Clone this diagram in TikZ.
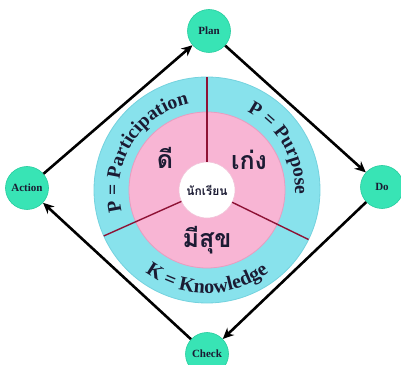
\documentclass[tikz,border=0pt]{standalone}
\usepackage{fontspec}
\setmainfont{Liberation Serif}
\newfontfamily\thaifont[Script=Thai]{Loma}
\usetikzlibrary{decorations.text,arrows.meta,calc}
\definecolor{ringcyan}{HTML}{88E2EC}
\definecolor{ringedge}{HTML}{74D2DE}
\definecolor{pinkfill}{HTML}{F8B5D4}
\definecolor{pinkedge}{HTML}{E89DC0}
\definecolor{nodegreen}{HTML}{38E4B5}
\definecolor{nodeedge}{HTML}{25CC9E}
\definecolor{textdark}{HTML}{1B1B33}
\definecolor{divred}{HTML}{8E1235}
\tikzset{
  stage/.style={circle, fill=nodegreen, draw=nodeedge, line width=0.6pt, minimum size=43pt, inner sep=0pt,
    font=\bfseries\fontsize{11}{11}\selectfont, text=textdark},
  cyclearrow/.style={line width=2.6pt, -{Stealth[length=11pt,width=10pt]}, black},
  divider/.style={line width=1.4pt, divred},
  thaibig/.style={font=\thaifont\bfseries\fontsize{25}{25}\selectfont, text=textdark},
  thaismall/.style={font=\thaifont\bfseries\fontsize{12}{12}\selectfont, text=textdark},
  arctext/.style={decorate, decoration={text along path, text align=center,
     text color=textdark}}
}
\begin{document}
\begin{tikzpicture}[x=1pt,y=1pt]
\useasboundingbox (0,0) rectangle (401,364);
\clip (0,0) rectangle (401,364);
\coordinate (C) at (207,174);
% rings
\filldraw[fill=ringcyan, draw=ringedge, line width=0.8pt] (C) circle (113);
\filldraw[fill=pinkfill, draw=pinkedge, line width=0.8pt] (C) circle (78);
\filldraw[fill=white, draw=pinkedge!60, line width=0.6pt] (C) circle (28);
% dividers
\coordinate (d1a) at ($(C)+(90:28)$);  \coordinate (d1b) at ($(C)+(90:113)$);
\coordinate (d2a) at ($(C)+(204:28)$); \coordinate (d2b) at ($(C)+(204:113)$);
\coordinate (d3a) at ($(C)+(334:28)$); \coordinate (d3b) at ($(C)+(334:113)$);
\draw[divider] (d1a) -- (d1b);
\draw[divider] (d2a) -- (d2b);
\draw[divider] (d3a) -- (d3b);
% arc texts
\path[arctext, decoration={text={|\bfseries\fontsize{19.5}{19.5}\selectfont|P = Participation}}]
  ($(C)+(204:88)$) arc[start angle=204, end angle=92, radius=88];
\path[arctext, decoration={text={|\bfseries\fontsize{19.5}{19.5}\selectfont|P = Purpose}}]
  ($(C)+(76:88)$) arc[start angle=76, end angle=-16, radius=88];
\path[arctext, decoration={text={|\bfseries\fontsize{20}{20}\selectfont|K = Knowledge}}]
  ($(C)+(210:103)$) arc[start angle=210, end angle=330, radius=103];
% thai labels
\node[thaibig] (di) at (165,206) {ดี};
\node[thaibig] (keng) at (249,204) {เก่ง};
\node[thaibig] (misuk) at (207,124) {มีสุข};
\node[thaismall] (student) at (207,174) {นักเรียน};
% PDCA nodes
\node[stage] (plan) at (209,333) {Plan};
\node[stage] (do) at (382,177) {Do};
\node[stage] (check) at (207,10) {\raisebox{-5pt}{Check}};
\node[stage] (action) at (27,176) {Action};
\draw[cyclearrow] (action) -- (plan);
\draw[cyclearrow] (plan) -- (do);
\draw[cyclearrow] (do) -- (check);
\draw[cyclearrow] (check) -- (action);
\end{tikzpicture}
\end{document}
